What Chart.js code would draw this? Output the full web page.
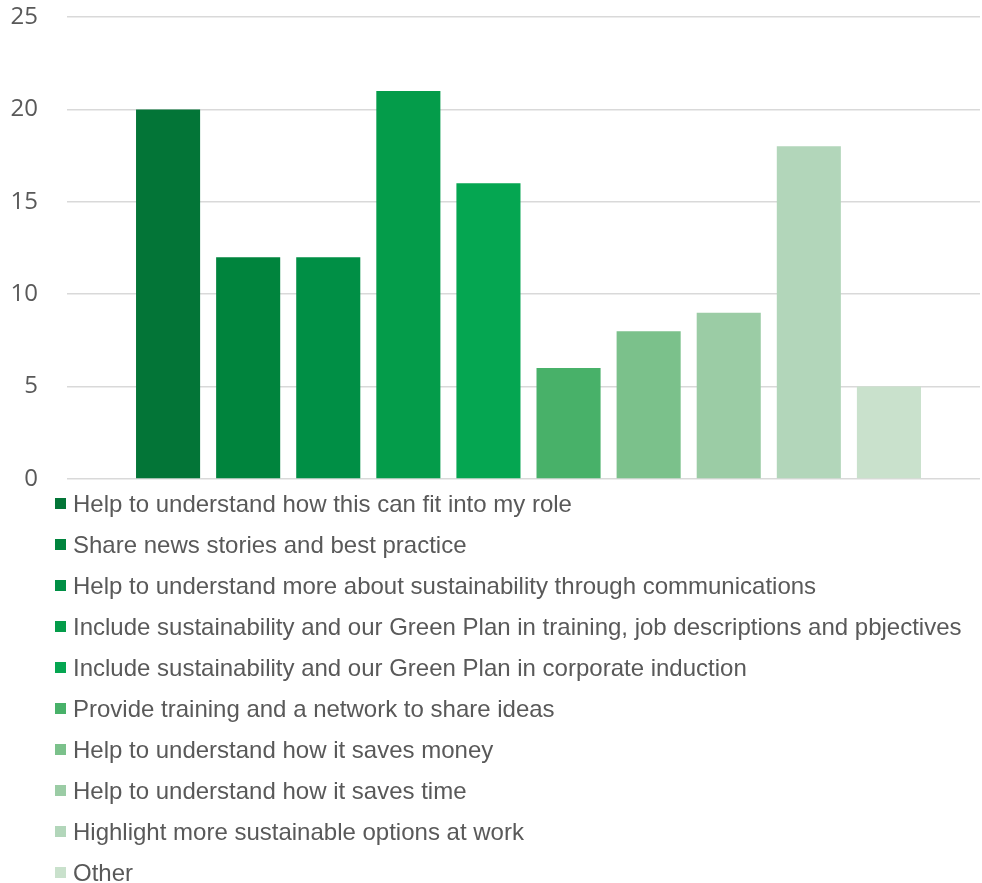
<!DOCTYPE html>
<html>
<head>
<meta charset="utf-8">
<script src="https://cdn.jsdelivr.net/npm/chart.js@4.4.1/dist/chart.umd.min.js"></script>
<style>
  body { margin: 0; background: #fff; }
  #wrap { width: 982px; height: 500px; position: relative; }
  #legend { list-style: none; margin: -17px 0 0 0; padding: 0 0 0 55px; position: relative; font-family: "Liberation Sans", Arial, sans-serif; font-size: 24px; color: #595959; }
  #legend li { display: flex; align-items: center; height: 41px; white-space: nowrap; }
  #legend span.box { display: inline-block; width: 11px; height: 11px; margin-right: 7px; }
</style>
</head>
<body>
<div id="wrap"><canvas id="chart"></canvas></div>
<ul id="legend"></ul>
<script>
// Survey answers: what would help staff with sustainability
const labels = [
  'Help to understand how this can fit into my role',
  'Share news stories and best practice',
  'Help to understand more about sustainability through communications',
  'Include sustainability and our Green Plan in training, job descriptions and pbjectives',
  'Include sustainability and our Green Plan in corporate induction',
  'Provide training and a network to share ideas',
  'Help to understand how it saves money',
  'Help to understand how it saves time',
  'Highlight more sustainable options at work',
  'Other'
];
const counts = [20, 12, 12, 21, 16, 6, 8, 9, 18, 5];
const colors = ['#037537', '#00843d', '#008f45', '#049c4a', '#05a651', '#48b169', '#7bc18b', '#9bcca5', '#b2d6ba', '#c9e1cc'];
const yTicks = [0, 5, 10, 15, 20, 25];

// one dataset per answer so each gets its own legend entry
const datasets = labels.map((label, i) => ({
  label: label,
  data: [counts[i]],
  backgroundColor: colors[i],
  categoryPercentage: 0.887,
  barPercentage: 0.8
}));

// legend rendered as a list under the canvas, one answer per row
const htmlLegend = {
  id: 'htmlLegend',
  afterUpdate(chart) {
    const ul = document.getElementById('legend');
    ul.innerHTML = '';
    chart.options.plugins.legend.labels.generateLabels(chart).forEach(item => {
      const li = document.createElement('li');
      const box = document.createElement('span');
      box.className = 'box';
      box.style.background = item.fillStyle;
      li.appendChild(box);
      li.appendChild(document.createTextNode(item.text));
      ul.appendChild(li);
    });
  }
};

new Chart(document.getElementById('chart'), {
  type: 'bar',
  data: {
    labels: [''],
    datasets: datasets
  },
  plugins: [htmlLegend],
  options: {
    responsive: true,
    maintainAspectRatio: false,
    animation: false,
    layout: { padding: { top: 17, right: 2, bottom: 21, left: 0 } },
    plugins: {
      legend: { display: false },
      tooltip: { enabled: false }
    },
    scales: {
      x: {
        display: false
      },
      y: {
        min: 0,
        max: 25,
        afterFit: scale => {
          scale.width = 77;
          // labels may overhang the plot edges, no extra room needed
          scale.paddingTop = 0;
          scale.paddingBottom = 0;
        },
        afterBuildTicks: scale => { scale.ticks = yTicks.map(v => ({ value: v })); },
        // the tick marks carry the grid lines a little past the plot's left edge
        grid: { color: '#d9d9d9', lineWidth: 1.5, drawTicks: true, tickLength: 10 },
        border: { display: false },
        ticks: {
          padding: 29,
          color: '#595959',
          font: { family: '"Open Sans", sans-serif', size: 24 }
        }
      }
    }
  }
});
</script>
</body>
</html>
